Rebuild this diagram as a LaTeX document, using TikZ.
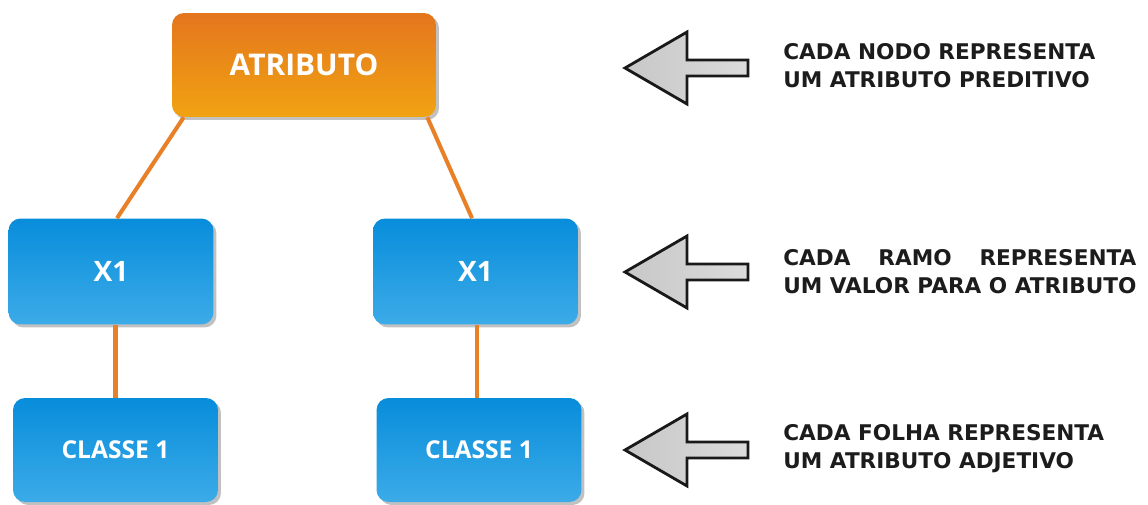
\documentclass[tikz,border=0pt]{standalone}
\usepackage{fontspec}
\usepackage{calc}
\usepackage{tikz}
\usetikzlibrary{shadows}

\newfontfamily\boxfont{Open Sans}
\newfontfamily\sidefont{DejaVu Sans}

\definecolor{orangetop}{RGB}{228,118,30}
\definecolor{orangebot}{RGB}{241,163,18}
\definecolor{bluetop}{RGB}{8,141,219}
\definecolor{bluebot}{RGB}{60,171,232}
\definecolor{branchorange}{RGB}{232,128,40}
\definecolor{sidetextcolor}{RGB}{28,28,28}

\begin{document}
\begin{tikzpicture}[x=0.02cm,y=-0.02cm,
    box/.style={shape=rectangle,rounded corners=0.24cm,inner sep=0pt,text=white,
      drop shadow={shadow xshift=0.06cm,shadow yshift=-0.06cm,opacity=0.35,fill=black!70}},
    attrbox/.style={box,minimum width=5.28cm,minimum height=2.08cm,
      top color=orangetop,bottom color=orangebot,
      font=\boxfont\bfseries\fontsize{17}{20}\selectfont},
    valuebox/.style={box,minimum width=4.1cm,minimum height=2.12cm,
      top color=bluetop,bottom color=bluebot,
      font=\boxfont\bfseries\fontsize{16}{19}\selectfont},
    leafbox/.style={box,minimum width=4.1cm,minimum height=2.08cm,
      top color=bluetop,bottom color=bluebot,
      font=\boxfont\bfseries\fontsize{14}{17}\selectfont},
    branch/.style={draw=branchorange,line width=2.3pt},
    blockarrow/.style={draw=black!90,line width=1.6pt,line join=miter,
      left color=black!22,right color=black!14},
    sidetext/.style={anchor=west,align=left,inner sep=0pt,text=sidetextcolor,
      font=\sidefont\bfseries\fontsize{12.3}{15.9}\selectfont}
  ]
  \useasboundingbox (0,0) rectangle (1148,504);

  % tree
  \node[attrbox](atr) at (304,65) {ATRIBUTO};
  \node[valuebox](xa) at (111,271.5) {X1};
  \node[valuebox](xb) at (475.5,271.5) {X1};
  \node[leafbox](ca) at (115.5,450) {CLASSE 1};
  \node[leafbox](cb) at (479,450) {CLASSE 1};

  \draw[branch] ([xshift=0.24cm]atr.south west) -- ([xshift=0.12cm]xa.north);
  \draw[branch] ([xshift=-0.18cm]atr.south east) -- ([xshift=-0.07cm]xb.north);
  \draw[branch] (ca.north |- xa.south) -- (ca.north);
  \draw[branch] ([xshift=-0.04cm]cb.north |- xb.south) -- ([xshift=-0.04cm]cb.north);

  % arrows
  \foreach \y in {68,272,450}
    \draw[blockarrow] (625,\y) -- (687,\y-36) -- (687,\y-8) -- (748,\y-8)
      -- (748,\y+8) -- (687,\y+8) -- (687,\y+36) -- cycle;

  % captions
  \node[sidetext](nodo) at (783,66) {CADA NODO REPRESENTA\\UM ATRIBUTO PREDITIVO};
  \node[sidetext](ramo) at (783,272)
    {\makebox[\widthof{UM VALOR PARA O ATRIBUTO}][s]{CADA RAMO REPRESENTA}\\UM VALOR PARA O ATRIBUTO};
  \node[sidetext](folha) at (783,449) {CADA FOLHA REPRESENTA\\UM ATRIBUTO ADJETIVO};
\end{tikzpicture}
\end{document}
